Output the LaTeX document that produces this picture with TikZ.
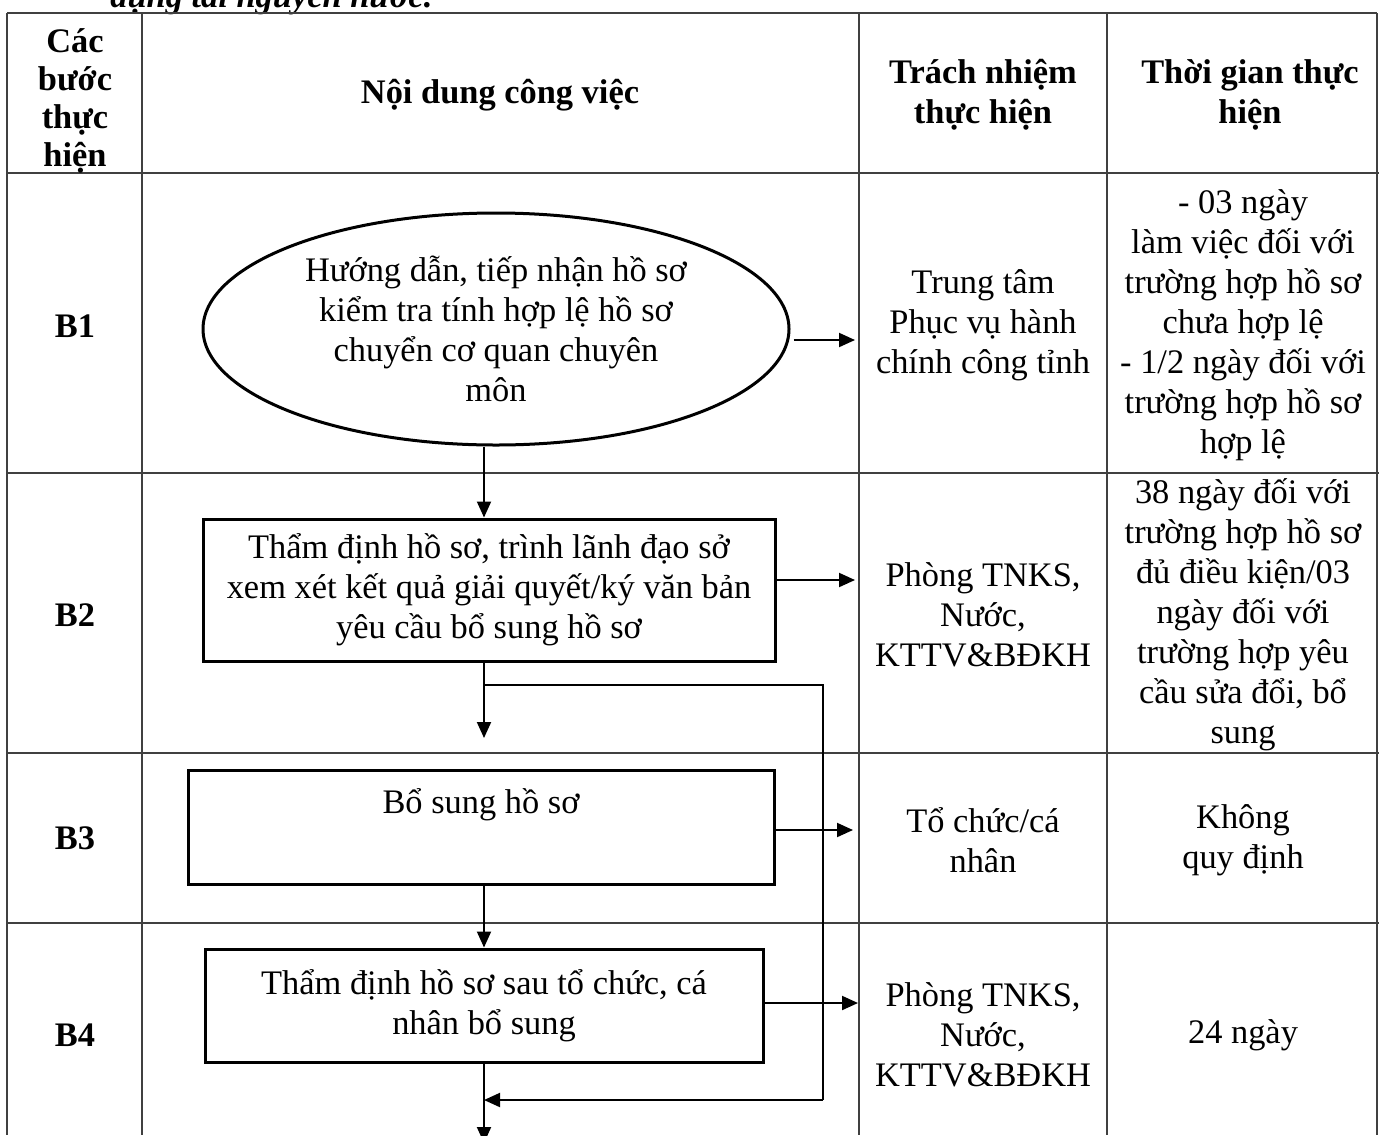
\documentclass[tikz,border=0pt]{standalone}
\usepackage{fontspec}
\setmainfont{Liberation Serif}
\usetikzlibrary{shapes.geometric,arrows.meta}
\tikzset{
  tbl/.style={line width=1pt, draw=black!75},
  txt/.style={align=center, inner sep=0pt, font=\fontsize{17.2}{20}\selectfont},
  hdr/.style={align=center, inner sep=0pt, font=\fontsize{17.2}{20}\selectfont\bfseries},
  stepbox/.style={draw, line width=1.5pt, rectangle, inner sep=0pt, align=center, font=\fontsize{17.2}{20}\selectfont},
  conn/.style={line width=1pt},
  arr/.style={conn, -{Triangle[length=8pt,width=7pt]}}
}
\begin{document}
\begin{tikzpicture}[x=0.5pt,y=-0.5pt]
\useasboundingbox (0,0) rectangle (1379,1135);
% title (clipped at top)
\node[anchor=base west, inner sep=0pt, font=\fontsize{17.2}{20}\selectfont\bfseries\itshape] (title) at (110,7) {dụng tài nguyên nước.};
% table grid
\draw[tbl] (7,13) -- (1377,13);
\draw[tbl] (7,173) -- (1379,173);
\draw[tbl] (7,473) -- (1379,473);
\draw[tbl] (7,753) -- (1379,753);
\draw[tbl] (7,923) -- (1379,923);
\draw[tbl] (7,13) -- (7,1135);
\draw[tbl] (142,13) -- (142,1135);
\draw[tbl] (859,13) -- (859,1135);
\draw[tbl] (1107,13) -- (1107,1135);
\draw[tbl] (1377,13) -- (1377,1135);
% header
\node[hdr, font=\fontsize{17.2}{19}\selectfont\bfseries] (h1) at (75,101) {Các\\bước\\thực\\hiện};
\node[hdr] (h2) at (500,95) {Nội dung công việc};
\node[hdr] (h3) at (983,95) {Trách nhiệm\\thực hiện};
\node[hdr] (h4) at (1250,95) {Thời gian thực\\hiện};
% step labels
\node[hdr] (s1) at (75,326) {B1};
\node[hdr] (s2) at (75,615) {B2};
\node[hdr] (s3) at (75,838) {B3};
\node[hdr] (s4) at (75,1035) {B4};
% flow shapes
\node[draw, ellipse, line width=1.5pt, inner sep=0pt, minimum width=293pt, minimum height=116pt, align=center, font=\fontsize{17.2}{20}\selectfont] (e1) at (496,329) {Hướng dẫn, tiếp nhận hồ sơ\\kiểm tra tính hợp lệ hồ sơ\\chuyển cơ quan chuyên\\môn};
\node[stepbox, minimum width=286pt, minimum height=71pt] (b2) at (489,590) {Thẩm định hồ sơ, trình lãnh đạo sở\\xem xét kết quả giải quyết/ký văn bản\\yêu cầu bổ sung hồ sơ};
\node[stepbox, minimum width=293pt, minimum height=57pt] (b3) at (481,827) {};
\node[txt] (b3t) at (481,805) {Bổ sung hồ sơ};
\node[stepbox, minimum width=279pt, minimum height=56.5pt] (b4) at (484,1005.5) {Thẩm định hồ sơ sau tổ chức, cá\\nhân bổ sung};
% responsibility column
\node[txt] (r1) at (983,325) {Trung tâm\\Phục vụ hành\\chính công tỉnh};
\node[txt] (r2) at (983,615) {Phòng TNKS,\\Nước,\\KTTV\&BĐKH};
\node[txt] (r3) at (983,840) {Tổ chức/cá\\nhân};
\node[txt] (r4) at (983,1035) {Phòng TNKS,\\Nước,\\KTTV\&BĐKH};
% time column
\node[txt] (d1) at (1243,325) {- 03 ngày\\làm việc đối với\\trường hợp hồ sơ\\chưa hợp lệ\\- 1/2 ngày đối với\\trường hợp hồ sơ\\hợp lệ};
\node[txt] (d2) at (1243,615) {38 ngày đối với\\trường hợp hồ sơ\\đủ điều kiện/03\\ngày đối với\\trường hợp yêu\\cầu sửa đổi, bổ\\sung};
\node[txt] (d3) at (1243,840) {Không\\quy định};
\node[txt] (d4) at (1243,1035) {24 ngày};
% coordinates
\coordinate (sp) at (484,0);
\coordinate (a1) at (855,340);
\coordinate (a2) at (855,580);
\coordinate (a3) at (853,830);
\coordinate (a4) at (858,1003);
\coordinate (t2) at (484,738);
\coordinate (j1) at (484,685);
\coordinate (j2) at (823,685);
\coordinate (j3) at (823,1100);
\coordinate (j4) at (484,1100);
\coordinate (t5) at (484,1143);
% connectors
\draw[arr] ([xshift=1.5pt,yshift=-5.5pt]e1.east) -- (a1);
\draw[arr] (e1.south -| sp) -- (b2.north -| sp);
\draw[arr] ([yshift=5pt]b2.east) -- (a2);
\draw[arr] (b2.south -| sp) -- (t2);
\draw[conn] (j1) -- (j2) -- (j3);
\draw[arr] (j3) -- (j4);
\draw[arr] ([yshift=-1.5pt]b3.east) -- (a3);
\draw[arr] (b3.south -| sp) -- (b4.north -| sp);
\draw[arr] ([yshift=1.25pt]b4.east) -- (a4);
\draw[arr] (b4.south -| sp) -- (t5);
\end{tikzpicture}
\end{document}
